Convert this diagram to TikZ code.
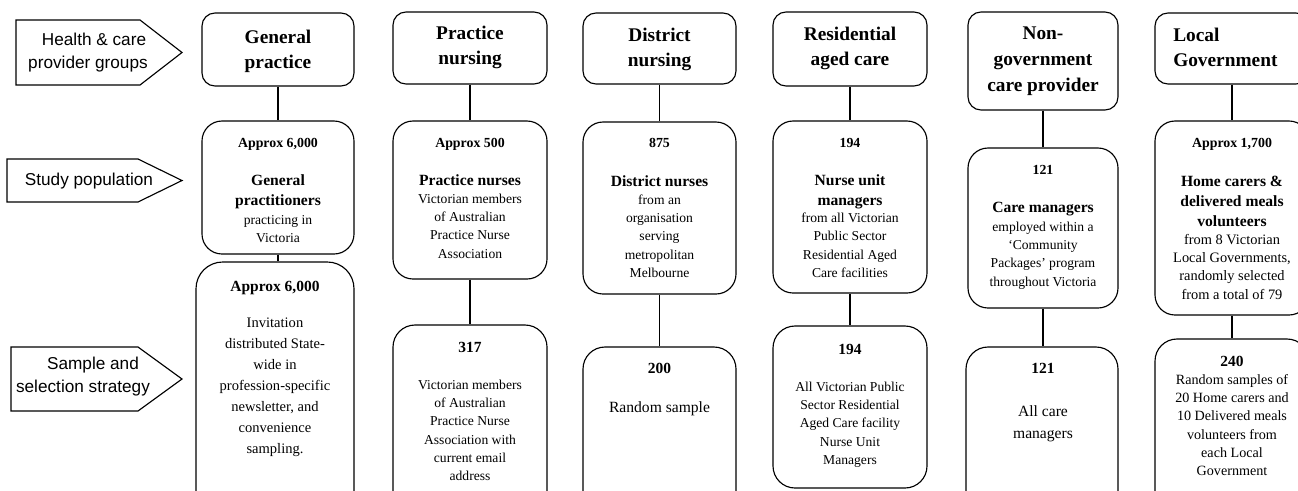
\documentclass[tikz,border=0pt]{standalone}
\usepackage{fontspec}
\setmainfont{Liberation Serif}
\newfontfamily\arialf{Liberation Sans}
\usetikzlibrary{fit}
\newcommand\blk[1]{\begin{tabular}[t]{@{}c@{}}#1\end{tabular}}
\newcommand\blkl[1]{\begin{tabular}[t]{@{}l@{}}#1\end{tabular}}
\newcommand\fHead{\fontsize{14.5}{18.75}\selectfont\bfseries}
\newcommand\fHeadB{\fontsize{14.5}{19.5}\selectfont\bfseries}
\newcommand\fSub{\fontsize{11.7}{15}\selectfont\bfseries}
\newcommand\fBody{\fontsize{10.2}{13.75}\selectfont}
\newcommand\fBodyC{\fontsize{10.8}{13.75}\selectfont}
\newcommand\fBodyD{\fontsize{10.6}{13.75}\selectfont}
\newcommand\fCnt{\fontsize{10.4}{13}\selectfont\bfseries}
\newcommand\fCntB{\fontsize{11.6}{14}\selectfont\bfseries}
\newcommand\fBodyA{\fontsize{10.9}{15.75}\selectfont}
\newcommand\fBodyB{\fontsize{11.7}{16.5}\selectfont}
\newcommand\fLbl{\arialf\fontsize{12.9}{17.6}\selectfont}
\tikzset{
  ln/.style={line width=0.85pt},
  hbox/.style={ln, draw, inner sep=0pt, rounded corners=9.75pt},
  pbox/.style={ln, draw, inner sep=0pt, rounded corners=15pt},
  sbox/.style={ln, draw, inner sep=0pt, rounded corners=16.5pt},
  sboxA/.style={ln, draw, inner sep=0pt, rounded corners=20pt},
  txt/.style={anchor=base, inner sep=0pt},
  lblshape/.style={ln, draw, line join=miter},
  conn/.style={ln}
}
\begin{document}
\begin{tikzpicture}[x=0.75pt,y=-0.75pt]
\useasboundingbox (0,0) rectangle (1298,490);
\clip (0,0) rectangle (1298,490);

% left labels
\draw[lblshape] (16,20) -- (140,20) -- (182,52.5) -- (140,85) -- (16,85) -- cycle;
\node[txt, font=\fLbl] (l1) at (88,45) {\blk{\hspace*{9pt}Health \& care\\provider groups}};
\draw[lblshape] (7,159) -- (138,159) -- (182,180.5) -- (138,202) -- (7,202) -- cycle;
\node[txt, font=\fLbl] (l2) at (89,185) {Study population};
\draw[lblshape] (11,347) -- (138,347) -- (182,379) -- (138,411) -- (11,411) -- cycle;
\node[txt, font=\fLbl] (l3) at (83,369.5) {\blk{\hspace*{15pt}Sample and\\selection strategy}};

% ---------- column 1
\node[hbox, fit={(202,13) (354,86)}] (h1) {};
\node[pbox, fit={(202,121) (354,254)}] (p1) {};
\node[sboxA, fit={(196,262) (354,520)}] (s1) {};
\draw[conn] (h1.south) -- (h1.south |- p1.north);
\draw[conn] (p1.south) -- (p1.south |- s1.north);
\node[txt, font=\fHead] (h1t) at (278,43) {\blk{General\\practice}};
\node[txt, font=\fCnt] (p1c) at (278,147.5) {Approx 6,000};
\node[txt, font=\fSub] (p1s) at (278,185) {\blk{General\\practitioners}};
\node[txt, font=\fBody] (p1b) at (278,224) {\blk{practicing in\\Victoria}};
\node[txt, font=\fCntB] (s1c) at (275,291) {Approx 6,000};
\node[txt, font=\fBodyA] (s1b) at (275,327) {\blk{Invitation\\distributed State-\\wide in\\profession-specific\\newsletter, and\\convenience\\sampling.}};

% ---------- column 2
\node[hbox, fit={(393,12) (547,84)}] (h2) {};
\node[pbox, fit={(393,121) (547,279)}] (p2) {};
\node[sbox, fit={(393,325) (547,520)}] (s2) {};
\draw[conn] (h2.south) -- (h2.south |- p2.north);
\draw[conn] (p2.south) -- (p2.south |- s2.north);
\node[txt, font=\fHead] (h2t) at (470,39) {\blk{Practice\\nursing}};
\node[txt, font=\fCnt] (p2c) at (470,147.5) {Approx 500};
\node[txt, font=\fSub] (p2s) at (470,185) {Practice nurses};
\node[txt, font=\fBody] (p2b) at (470,203) {\blk{Victorian members\\of Australian\\Practice Nurse\\Association}};
\node[txt, font=\fCntB] (s2c) at (470,352) {317};
\node[txt, font=\fBody] (s2b) at (470,389) {\blk{Victorian members\\of Australian\\Practice Nurse\\Association with\\current email\\address}};

% ---------- column 3
\node[hbox, fit={(583,13) (736,84)}] (h3) {};
\node[pbox, fit={(583,122) (736,294)}] (p3) {};
\node[sbox, fit={(583,347) (736,520)}] (s3) {};
\draw[conn] (h3.south) -- (h3.south |- p3.north);
\draw[conn] (p3.south) -- (p3.south |- s3.north);
\node[txt, font=\fHead] (h3t) at (659.5,41) {\blk{District\\nursing}};
\node[txt, font=\fCnt] (p3c) at (659.5,147.5) {875};
\node[txt, font=\fSub] (p3s) at (659.5,186) {District nurses};
\node[txt, font=\fBody] (p3b) at (659.5,204) {\blk{from an\\organisation\\serving\\metropolitan\\Melbourne}};
\node[txt, font=\fCntB] (s3c) at (659.5,373) {200};
\node[txt, font=\fBodyB] (s3b) at (659.5,412.5) {Random sample};

% ---------- column 4
\node[hbox, fit={(773,12) (927,86)}] (h4) {};
\node[pbox, fit={(773,121) (927,293)}] (p4) {};
\node[sbox, fit={(773,326) (927,488)}] (s4) {};
\draw[conn] (h4.south) -- (h4.south |- p4.north);
\draw[conn] (p4.south) -- (p4.south |- s4.north);
\node[txt, font=\fHead] (h4t) at (850,40) {\blk{Residential\\aged care}};
\node[txt, font=\fCnt] (p4c) at (850,147.5) {194};
\node[txt, font=\fSub] (p4s) at (850,185) {\blk{Nurse unit\\managers}};
\node[txt, font=\fBody] (p4b) at (850,222.5) {\blk{from all Victorian\\Public Sector\\Residential Aged\\Care facilities}};
\node[txt, font=\fCntB] (s4c) at (850,354) {194};
\node[txt, font=\fBody] (s4b) at (850,391) {\blk{All Victorian Public\\Sector Residential\\Aged Care facility\\Nurse Unit\\Managers}};

% ---------- column 5
\node[hbox, fit={(968,12) (1118,110)}] (h5) {};
\node[pbox, fit={(968,148) (1118,308)}] (p5) {};
\node[sbox, fit={(966,347) (1118,520)}] (s5) {};
\draw[conn] (h5.south) -- (h5.south |- p5.north);
\draw[conn] (p5.south) -- (p5.south |- s5.north);
\node[txt, font=\fHeadB] (h5t) at (1043,39) {\blk{Non-\\government\\care provider}};
\node[txt, font=\fCnt] (p5c) at (1043,174) {121};
\node[txt, font=\fSub] (p5s) at (1043,212) {Care managers};
\node[txt, font=\fBody] (p5b) at (1043,231) {\blk{employed within a\\‘Community\\Packages’ program\\throughout Victoria}};
\node[txt, font=\fCntB] (s5c) at (1043,373) {121};
\node[txt, font=\fBodyB] (s5b) at (1043,416) {\blk{All care\\managers}};

% ---------- column 6
\node[hbox, fit={(1155,13) (1309,84)}] (h6) {};
\node[pbox, fit={(1155,121) (1309,315)}] (p6) {};
\node[sbox, fit={(1155,339) (1309,520)}] (s6) {};
\draw[conn] (h6.south) -- (h6.south |- p6.north);
\draw[conn] (p6.south) -- (p6.south |- s6.north);
\node[txt, anchor=base west, font=\fHead] (h6t) at (1173,41) {\blkl{Local\\Government}};
\node[txt, font=\fCnt] (p6c) at (1232,147.5) {Approx 1,700};
\node[txt, font=\fSub] (p6s) at (1232,186) {\blk{Home carers \&\\delivered meals\\volunteers}};
\node[txt, font=\fBodyC] (p6b) at (1232,244) {\blk{from 8 Victorian\\Local Governments,\\randomly selected\\from a total of 79}};
\node[txt, font=\fCntB] (s6c) at (1232,366.5) {240};
\node[txt, font=\fBodyD] (s6b) at (1232,384) {\blk{Random samples of\\20 Home carers and\\10 Delivered meals\\volunteers from\\each Local\\Government}};
\end{tikzpicture}
\end{document}
